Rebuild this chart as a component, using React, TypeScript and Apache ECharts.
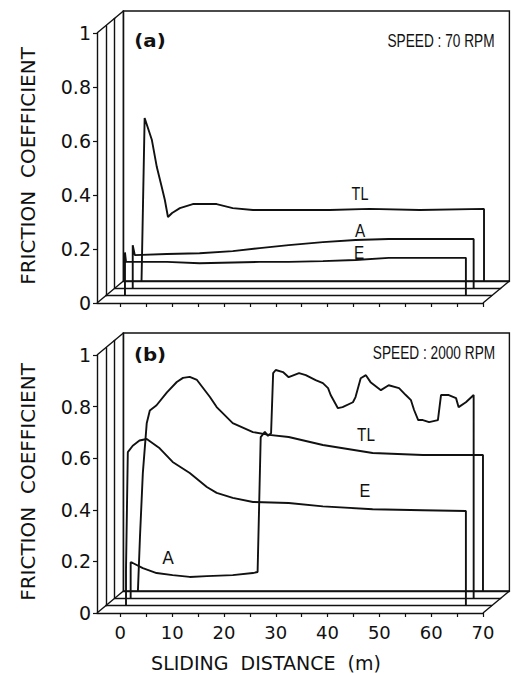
import React, { useEffect, useRef } from "react";
import * as echarts from "echarts";

// ---- data (sliding distance m, friction coefficient) ----
const X_MIN = -4.5;
const X_MAX = 70;
const xTickValues = [0, 5, 10, 15, 20, 25, 30, 35, 40, 45, 50, 55, 60, 65, 70];
const xLabelValues = [0, 10, 20, 30, 40, 50, 60, 70];
const yTickValues = [0, 0.2, 0.4, 0.6, 0.8, 1];

// (a) 70 RPM
const topE: number[][] = [[-0.8, 0], [-0.8, 0.16], [-0.6, 0.125], [0.7, 0.125], [7.3, 0.125], [13.6, 0.12], [25.2, 0.125], [30.8, 0.125], [37.4, 0.128], [43.7, 0.132], [50.1, 0.14], [56.7, 0.14], [65, 0.14], [65, 0]];
const topA: number[][] = [[-1, 0], [-1, 0.16], [-0.6, 0.123], [5.6, 0.127], [11.9, 0.13], [18.3, 0.138], [23.5, 0.149], [29.1, 0.16], [35.7, 0.171], [42, 0.179], [48.4, 0.183], [55, 0.183], [64.8, 0.183], [64.8, 0]];
const topTL: number[][] = [[-1, 0], [-0.8, 0.2], [-0.4, 0.604], [1, 0.522], [1.95, 0.422], [2.9, 0.348], [3.5, 0.3], [4.1, 0.237], [4.9, 0.252], [6.4, 0.27], [8.9, 0.285], [13.5, 0.285], [16.6, 0.27], [20.5, 0.263], [27.6, 0.263], [35.3, 0.263], [43, 0.267], [52.7, 0.263], [65.1, 0.267], [65.1, 0]];

// (b) 2000 RPM
const botE: number[][] = [[-0.6, 0], [-0.6, 0.14], [-0.25, 0.595], [0.7, 0.62], [2, 0.64], [3.4, 0.646], [5.9, 0.61], [8.4, 0.557], [11.7, 0.514], [15, 0.46], [16.9, 0.437], [20, 0.418], [23.9, 0.402], [30.8, 0.398], [37.4, 0.385], [47, 0.374], [56.7, 0.37], [65, 0.367], [65, 0]];
const botA: number[][] = [[-1.4, 0], [-1.4, 0.14], [-1, 0.137], [0.95, 0.117], [3.6, 0.098], [6.7, 0.09], [10, 0.083], [13.3, 0.086], [18.3, 0.09], [22.2, 0.098], [23.1, 0.102], [23.7, 0.625], [24.5, 0.645], [25.1, 0.63], [25.7, 0.64], [26.1, 0.873], [26.6, 0.885], [28, 0.877], [29.1, 0.857], [31.1, 0.873], [32.4, 0.865], [34.3, 0.846], [35.7, 0.834], [36.7, 0.815], [37.2, 0.788], [38.6, 0.737], [39.5, 0.741], [41.5, 0.76], [42, 0.78], [43, 0.853], [44, 0.865], [44.9, 0.838], [46.9, 0.807], [48.4, 0.826], [50.4, 0.815], [51.7, 0.788], [52.7, 0.768], [53.3, 0.73], [54.1, 0.691], [55, 0.691], [56.2, 0.683], [57.9, 0.691], [58.5, 0.788], [60, 0.788], [61.4, 0.776], [61.9, 0.741], [63.3, 0.76], [64.8, 0.788], [64.8, 0]];
const botTL: number[][] = [[-1.7, 0], [-1.3, 0.21], [-0.75, 0.457], [0, 0.65], [0.6, 0.7], [1.9, 0.72], [3.9, 0.77], [5.8, 0.81], [7, 0.826], [8.3, 0.83], [9.7, 0.818], [12.2, 0.752], [13.5, 0.713], [16.6, 0.651], [20.5, 0.616], [23.6, 0.605], [27.4, 0.597], [34, 0.566], [43.6, 0.535], [53.3, 0.527], [64.9, 0.527], [64.9, 0]];

// series depth order: E front (1), A middle (2), TL back (3)
const panelSeries = [
  [topE, topA, topTL],
  [botE, botA, botTL],
];

// ---- layout ----
const LEFT = 97;
const WIDTH = 386;
const DX = 8.8;
const DY = 7.33;
const PANELS = [
  { top: 33, height: 270, showXLabels: false },
  { top: 355, height: 258, showXLabels: true },
];
const INK = "#111";
const FONT = "Liberation Sans, Arial, sans-serif";
const WIDE = "DejaVu Sans, sans-serif";

export default function App() {
  const ref = useRef<HTMLDivElement>(null);
  useEffect(() => {
    if (!ref.current) return;
    const chart = echarts.init(ref.current, null, { renderer: "svg" });
    const grid: any[] = [];
    const xAxis: any[] = [];
    const yAxis: any[] = [];
    const series: any[] = [];
    const graphic: any[] = [];

    PANELS.forEach((p, pi) => {
      for (let k = 0; k < 4; k++) {
        const gi = grid.length;
        const isFront = k === 0;
        const isBack = k === 3;
        grid.push({
          left: LEFT + k * DX,
          top: p.top - k * DY,
          width: WIDTH,
          height: p.height,
          show: isBack,
          borderColor: INK,
          borderWidth: 1.4,
          backgroundColor: "transparent",
        });
        xAxis.push({
          type: "value",
          gridIndex: gi,
          min: X_MIN,
          max: X_MAX,
          axisLine: { show: true, onZero: false, lineStyle: { color: INK, width: 1.4 } },
          axisTick: {
            show: isFront,
            length: 4,
            customValues: xTickValues,
            lineStyle: { color: INK, width: 1.2 },
          },
          axisLabel: {
            show: isFront && p.showXLabels,
            customValues: xLabelValues,
            color: INK,
            fontFamily: WIDE,
            fontSize: 18,
            margin: 10,
          },
          splitLine: { show: false },
        });
        yAxis.push({
          type: "value",
          gridIndex: gi,
          min: 0,
          max: 1,
          axisLine: { show: true, onZero: false, lineStyle: { color: INK, width: 1.4 } },
          axisTick: {
            show: isFront,
            length: 4,
            customValues: yTickValues,
            lineStyle: { color: INK, width: 1.2 },
          },
          axisLabel: {
            show: isFront,
            customValues: yTickValues,
            color: INK,
            fontFamily: WIDE,
            fontSize: 19,
            margin: 6,
            formatter: (v: number) => (v === 0 ? "0" : v === 1 ? "1" : v.toFixed(1)),
          },
          splitLine: { show: false },
        });
        if (k > 0) {
          series.push({
            type: "line",
            xAxisIndex: gi,
            yAxisIndex: gi,
            data: panelSeries[pi][k - 1],
            showSymbol: false,
            symbol: "none",
            lineStyle: { color: INK, width: 1.9 },
            z: 10 - k,
          });
        }
      }
      // box diagonals
      const bx = 3 * DX;
      const by = 3 * DY;
      const b = p.top + p.height;
      const segs = [
        [LEFT, p.top, LEFT + bx, p.top - by],
        [LEFT, b, LEFT + bx, b - by],
        [LEFT + WIDTH, b, LEFT + WIDTH + bx, b - by],
      ];
      segs.forEach((s) =>
        graphic.push({
          type: "line",
          shape: { x1: s[0], y1: s[1], x2: s[2], y2: s[3] },
          style: { stroke: INK, lineWidth: 1.4 },
        })
      );
      // y title
      graphic.push({
        type: "text",
        x: 28,
        y: p.top + p.height / 2 - 2,
        rotation: Math.PI / 2,
        style: {
          text: "FRICTION  COEFFICIENT",
          font: `20px ${WIDE}`,
          fill: INK,
          align: "center",
          verticalAlign: "middle",
        },
      });
    });

    const label = (text: string, x: number, y: number, size: number, sx = 1, bold = false, fam = FONT) => ({
      type: "text",
      x,
      y,
      scaleX: sx,
      style: {
        text,
        font: `${bold ? "bold " : ""}${size}px ${fam}`,
        fill: INK,
        align: "center",
        verticalAlign: "middle",
      },
    });
    graphic.push(label("(a)", 150, 40, 18, 1.1, true, WIDE));
    graphic.push(label("SPEED : 70 RPM", 441, 41, 18, 0.76));
    graphic.push(label("TL", 360, 193, 18, 0.8));
    graphic.push(label("A", 360, 231, 18, 0.85));
    graphic.push(label("E", 359, 253, 18, 0.85));
    graphic.push(label("(b)", 150, 354, 18, 1.1, true, WIDE));
    graphic.push(label("SPEED : 2000 RPM", 434, 353, 18, 0.76));
    graphic.push(label("TL", 366, 435, 18, 0.85));
    graphic.push(label("E", 365, 491, 18, 0.9));
    graphic.push(label("A", 168, 558, 17, 1, false, WIDE));
    graphic.push(label("SLIDING  DISTANCE  (m)", 266, 663, 19, 1, false, WIDE));

    chart.setOption({
      animation: false,
      backgroundColor: "#fff",
      grid,
      xAxis,
      yAxis,
      series,
      graphic,
    });
    return () => chart.dispose();
  }, []);
  return (
    <div
      ref={ref}
      style={{ position: "fixed", left: 0, top: 0, width: 516, height: 673 }}
    />
  );
}
